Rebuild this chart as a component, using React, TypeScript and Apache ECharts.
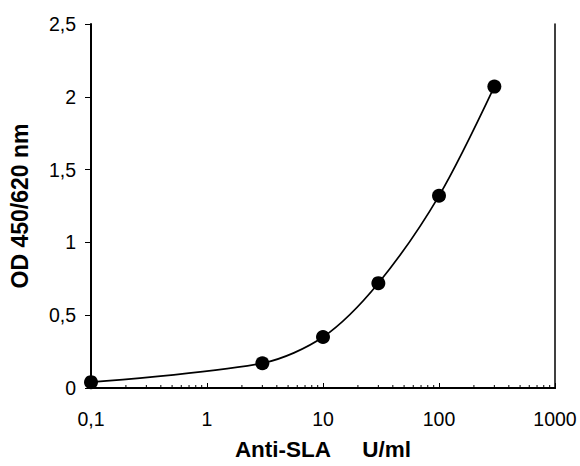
import React, { useEffect, useRef } from "react";
import * as echarts from "echarts";

const concentrations = [0.1, 3, 10, 30, 100, 300];
const odValues = [0.04, 0.17, 0.35, 0.72, 1.32, 2.07];
const minorTickValues = [
  0.2, 0.3, 0.4, 0.5, 0.6, 0.7, 0.8, 0.9,
  2, 3, 4, 5, 6, 7, 8, 9,
  20, 30, 40, 50, 60, 70, 80, 90,
  200, 300, 400, 500, 600, 700, 800, 900,
];
const xAxisTitle = "Anti-SLA\u00a0\u00a0\u00a0\u00a0\u00a0U/ml";
const yAxisTitle = "OD 450/620 nm";

const FONT = "'Liberation Sans', Arial, sans-serif";

export default function App() {
  const ref = useRef<HTMLDivElement>(null);
  useEffect(() => {
    document.body.style.margin = "0";
    const chart = echarts.init(ref.current!, null, { renderer: "svg" });
    const fmt = (v: number) => String(v).replace(".", ",");
    chart.setOption({
      animation: false,
      backgroundColor: "#fff",
      grid: { left: 88, top: 24, right: 25, bottom: 78, show: false },
      xAxis: [
        {
          type: "log",
          logBase: 10,
          min: 0.1,
          max: 1000,
          name: xAxisTitle,
          nameLocation: "middle",
          nameGap: 50,
          nameTextStyle: { fontFamily: FONT, fontSize: 22.5, fontWeight: "bold", color: "#000" },
          axisLine: { show: true, lineStyle: { color: "#000", width: 2 } },
          axisTick: { show: true, inside: true, length: 5, lineStyle: { color: "#000", width: 1 } },
          axisLabel: { fontFamily: FONT, fontSize: 19.5, color: "#000", margin: 21, formatter: fmt },
          splitLine: { show: false },
          minorTick: { show: false },
        },
        {
          type: "log",
          logBase: 10,
          min: 0.1,
          max: 1000,
          position: "top",
          axisLine: { show: true, lineStyle: { color: "#000", width: 2 } },
          axisTick: { show: false },
          axisLabel: { show: false },
          splitLine: { show: false },
        },
      ],
      yAxis: [
        {
          type: "value",
          min: 0,
          max: 2.5,
          interval: 0.5,
          name: yAxisTitle,
          nameLocation: "middle",
          nameGap: 60,
          nameTextStyle: { fontFamily: FONT, fontSize: 23, fontWeight: "bold", color: "#000" },
          axisLine: { show: true, lineStyle: { color: "#000", width: 2 } },
          axisTick: { show: true, inside: false, length: 6, lineStyle: { color: "#000", width: 1 } },
          axisLabel: { fontFamily: FONT, fontSize: 19.5, color: "#000", margin: 15, formatter: fmt },
          splitLine: { show: false },
        },
        {
          type: "value",
          min: 0,
          max: 2.5,
          position: "right",
          axisLine: { show: true, lineStyle: { color: "#000", width: 1.5 } },
          axisTick: { show: false },
          axisLabel: { show: false },
          splitLine: { show: false },
        },
      ],
      series: [
        {
          type: "custom",
          silent: true,
          xAxisIndex: 0,
          yAxisIndex: 0,
          data: minorTickValues.map((v) => [v, 0]),
          renderItem: (params: any, api: any) => {
            const p = api.coord([api.value(0), 0]);
            return {
              type: "line",
              shape: { x1: p[0], y1: p[1], x2: p[0], y2: p[1] - 3 },
              style: { stroke: "#000", lineWidth: 1 },
            };
          },
          z: 1,
        },
        {
          type: "line",
          xAxisIndex: 0,
          yAxisIndex: 0,
          data: concentrations.map((c, i) => [c, odValues[i]]),
          smooth: 0.3,
          symbol: "circle",
          symbolSize: 14,
          itemStyle: { color: "#000" },
          lineStyle: { color: "#000", width: 1.7 },
          clip: false,
          z: 3,
        },
      ],
    });
    return () => chart.dispose();
  }, []);
  return <div ref={ref} style={{ width: 580, height: 466 }} />;
}
